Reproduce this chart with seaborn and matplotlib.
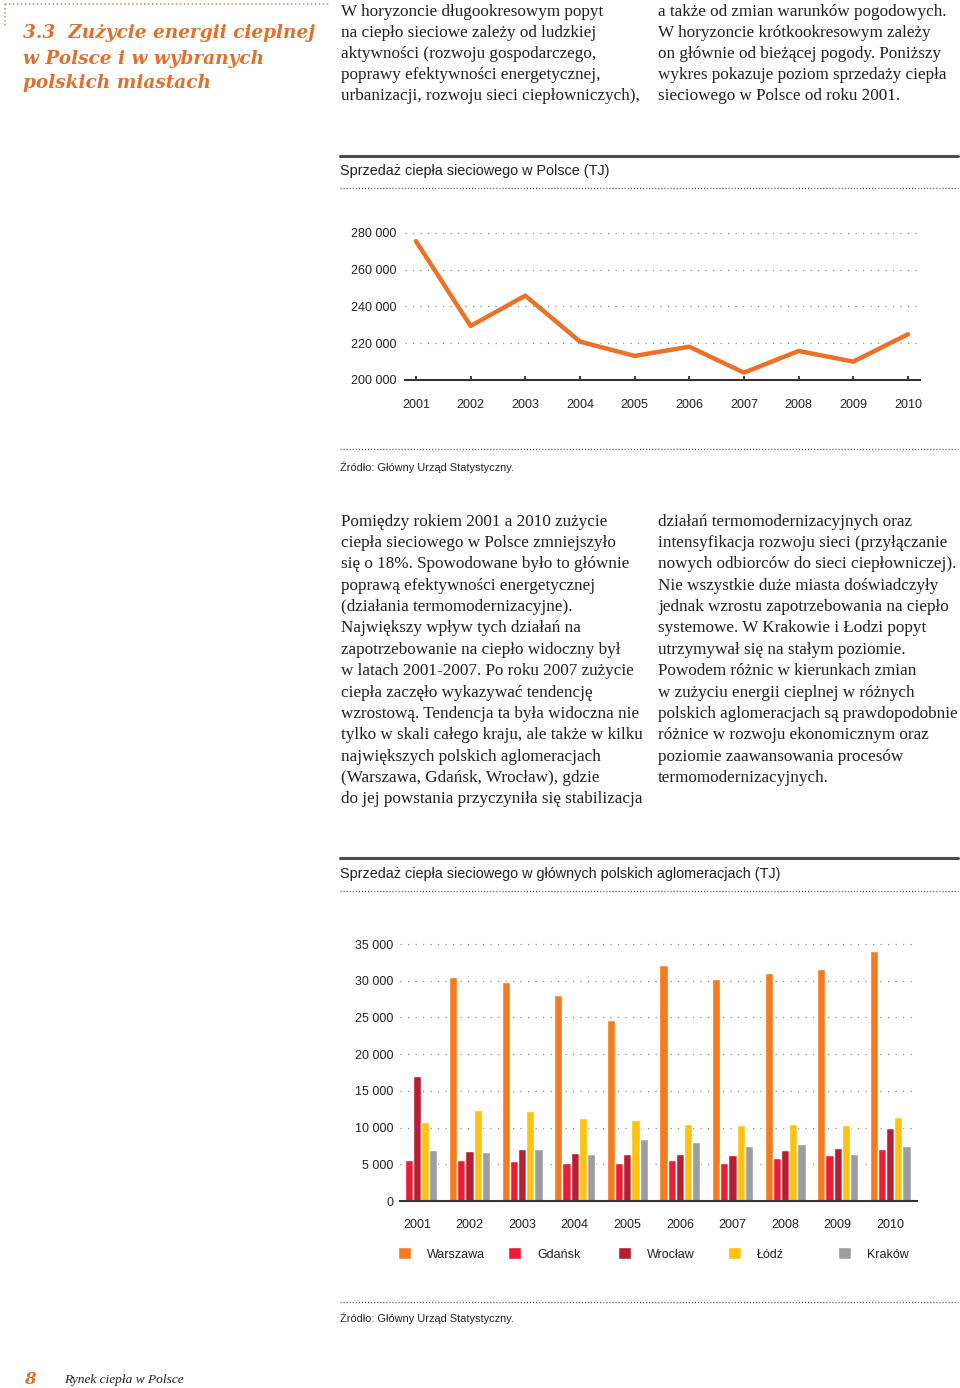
import numpy as np
import pandas as pd
import matplotlib
matplotlib.use("Agg")
import matplotlib.pyplot as plt
from matplotlib.lines import Line2D
import seaborn as sns

# data
years = [2001, 2002, 2003, 2004, 2005, 2006, 2007, 2008, 2009, 2010]
poland_tj = [275600, 229400, 245900, 220900, 213100, 218100, 204000, 215800, 210000, 224900]

cities = ["Warszawa", "Gdańsk", "Wrocław", "Łódź", "Kraków"]
warszawa = [np.nan, 30500, 29800, 28100, 24650, 32200, 30200, 31050, 31650, 34000]
gdansk = [5600, 5600, 5450, 5200, 5200, 5600, 5200, 5850, 6300, 7150]
wroclaw = [17000, 6750, 7150, 6600, 6450, 6350, 6200, 6950, 7250, 9900]
lodz = [10700, 12400, 12200, 11350, 11050, 10550, 10350, 10450, 10300, 11400]
krakow = [6950, 6650, 7150, 6450, 8500, 8050, 7450, 7700, 6400, 7450]

line_ticks = [200000, 220000, 240000, 260000, 280000]
bar_ticks = [0, 5000, 10000, 15000, 20000, 25000, 30000, 35000]

title_lines = ["3.3  Zużycie energii cieplnej", "w Polsce i w wybranych", "polskich miastach"]
intro_left = [
    "W horyzoncie długookresowym popyt",
    "na ciepło sieciowe zależy od ludzkiej",
    "aktywności (rozwoju gospodarczego,",
    "poprawy efektywności energetycznej,",
    "urbanizacji, rozwoju sieci ciepłowniczych),",
]
intro_right = [
    "a także od zmian warunków pogodowych.",
    "W horyzoncie krótkookresowym zależy",
    "on głównie od bieżącej pogody. Poniższy",
    "wykres pokazuje poziom sprzedaży ciepła",
    "sieciowego w Polsce od roku 2001.",
]
mid_left = [
    "Pomiędzy rokiem 2001 a 2010 zużycie",
    "ciepła sieciowego w Polsce zmniejszyło",
    "się o 18%. Spowodowane było to głównie",
    "poprawą efektywności energetycznej",
    "(działania termomodernizacyjne).",
    "Największy wpływ tych działań na",
    "zapotrzebowanie na ciepło widoczny był",
    "w latach 2001-2007. Po roku 2007 zużycie",
    "ciepła zaczęło wykazywać tendencję",
    "wzrostową. Tendencja ta była widoczna nie",
    "tylko w skali całego kraju, ale także w kilku",
    "największych polskich aglomeracjach",
    "(Warszawa, Gdańsk, Wrocław), gdzie",
    "do jej powstania przyczyniła się stabilizacja",
]
mid_right = [
    "działań termomodernizacyjnych oraz",
    "intensyfikacja rozwoju sieci (przyłączanie",
    "nowych odbiorców do sieci ciepłowniczej).",
    "Nie wszystkie duże miasta doświadczyły",
    "jednak wzrostu zapotrzebowania na ciepło",
    "systemowe. W Krakowie i Łodzi popyt",
    "utrzymywał się na stałym poziomie.",
    "Powodem różnic w kierunkach zmian",
    "w zużyciu energii cieplnej w różnych",
    "polskich aglomeracjach są prawdopodobnie",
    "różnice w rozwoju ekonomicznym oraz",
    "poziomie zaawansowania procesów",
    "termomodernizacyjnych.",
]
chart1_title = "Sprzedaż ciepła sieciowego w Polsce (TJ)"
chart2_title = "Sprzedaż ciepła sieciowego w głównych polskich aglomeracjach (TJ)"
source = "Źródło: Główny Urząd Statystyczny."

# colours
ORANGE_TXT = "#E0702C"
LINE_ORANGE = "#EC7128"
palette = ["#F47B20", "#EC1C36", "#B41F31", "#FFC20E", "#9C9DA0"]
DARK = "#333333"

sns.set_theme(style="white")
plt.rcParams['font.family'] = ['Liberation Sans', 'DejaVu Sans']
SERIF = ['Liberation Serif', 'DejaVu Serif']
HEAVY_SERIF = ['DejaVu Serif', 'Liberation Serif']

W, H = 960, 1388
fig = plt.figure(figsize=(9.6, 13.88), dpi=100)


def fx(px):
    return px / W


def fy(py):
    return 1 - py / H


def hline(x0, x1, y, color, lw, ls):
    fig.add_artist(Line2D([fx(x0), fx(x1)], [fy(y), fy(y)], transform=fig.transFigure,
                          color=color, lw=lw, linestyle=ls))


def paragraph(lines, x, y0, step, **kw):
    # one text per line, baselines on the page grid
    for i, line in enumerate(lines):
        fig.text(fx(x), fy(y0 + i * step), line, ha="left", va="baseline", **kw)


DOTS = (0, (0.8, 1.4))

# decorative dotted corner + title
fig.add_artist(Line2D([fx(5), fx(330)], [fy(4), fy(4)], transform=fig.transFigure,
                      color="#D29A6E", lw=1.3, linestyle=DOTS))
fig.add_artist(Line2D([fx(5), fx(5)], [fy(4), fy(26)], transform=fig.transFigure,
                      color="#D29A6E", lw=1.3, linestyle=DOTS))
paragraph(title_lines, 23, 38.5, 25, color=ORANGE_TXT, family=HEAVY_SERIF, fontsize=13.3,
          fontweight="bold", fontstyle="italic")

# body text
body_kw = dict(color="#231F20", family=SERIF, fontsize=12.3)
paragraph(intro_left, 341, 15.5, 21.25, **body_kw)
paragraph(intro_right, 658, 15.5, 21.25, **body_kw)
paragraph(mid_left, 341, 525.5, 21.38, **body_kw)
paragraph(mid_right, 658, 525.5, 21.38, **body_kw)

# chart section frames
for y_solid, y_dot, y_bottom, ttl, y_ttl, y_src in [
        (156, 188, 449, chart1_title, 171, 467),
        (858, 891, 1302, chart2_title, 874, 1318)]:
    hline(340, 958, y_solid, "#4D4D4D", 2.2, "-")
    hline(340, 958, y_dot, "#555555", 1.0, DOTS)
    hline(340, 958, y_bottom, "#555555", 1.0, DOTS)
    fig.text(fx(340), fy(y_ttl), ttl, ha="left", va="center", fontsize=10.4, color="#222222")
    fig.text(fx(340), fy(y_src), source, ha="left", va="center", fontsize=7.9, color="#222222")

# line chart: total Poland
ax1 = fig.add_axes([fx(405), fy(380), (920 - 405) / W, (380 - 229.3) / H])
sns.lineplot(x=years, y=poland_tj, ax=ax1, color=LINE_ORANGE, lw=3.2)
ax1.set_xlim(2000.8, 2010.22)
ax1.set_ylim(200000, 282000)
ax1.set_xticks(years)
ax1.set_xticklabels([str(y) for y in years])
ax1.set_yticks(line_ticks)
ax1.set_yticklabels([f"{v:,}".replace(",", " ") for v in line_ticks])
ax1.set_axisbelow(True)
ax1.yaxis.grid(True, color="#8C8C8C", lw=0.9, linestyle=(0, (1, 5)))
ax1.xaxis.grid(False)
for s in ["top", "right", "left"]:
    ax1.spines[s].set_visible(False)
ax1.spines["bottom"].set_color(DARK)
ax1.spines["bottom"].set_linewidth(1.5)
ax1.tick_params(axis="y", length=0, pad=6, labelsize=9, labelcolor="#222222")
ax1.tick_params(axis="x", direction="in", length=3, width=1.3, color=DARK, pad=13.5,
                labelsize=9, labelcolor="#222222", bottom=True)

# bar chart: cities
bars = pd.DataFrame({"Rok": [str(y) for y in years], "Warszawa": warszawa, "Gdańsk": gdansk,
                     "Wrocław": wroclaw, "Łódź": lodz, "Kraków": krakow})
bars_long = bars.melt(id_vars="Rok", value_vars=cities, var_name="Miasto", value_name="TJ")

ax2 = fig.add_axes([fx(400), fy(1201), (917 - 400) / W, (1201 - 936.7) / H])
sns.barplot(data=bars_long, x="Rok", y="TJ", hue="Miasto", hue_order=cities, palette=palette,
            width=0.78, saturation=1, errorbar=None, ax=ax2, zorder=3)
handles, labels = ax2.get_legend_handles_labels()
ax2.get_legend().remove()
ax2.set_xlim(-0.323, 9.51)
ax2.set_ylim(0, 36000)
ax2.set_yticks(bar_ticks)
ax2.set_yticklabels([f"{v:,}".replace(",", " ") for v in bar_ticks])
ax2.set_xlabel("")
ax2.set_ylabel("")
ax2.yaxis.grid(True, color="#8C8C8C", lw=0.9, linestyle=(0, (1, 5)), zorder=0)
ax2.xaxis.grid(False)
for s in ["top", "right", "left"]:
    ax2.spines[s].set_visible(False)
ax2.spines["bottom"].set_color(DARK)
ax2.spines["bottom"].set_linewidth(1.5)
ax2.spines["bottom"].set_zorder(5)
ax2.tick_params(axis="y", length=0, pad=5, labelsize=9, labelcolor="#222222")
ax2.tick_params(axis="x", length=0, pad=13, labelsize=9, labelcolor="#222222")

# legend, one entry per slot so the spacing matches the page
for i, (h, lab) in enumerate(zip(handles, labels)):
    fig.legend([h], [lab], loc="center left", bbox_to_anchor=(fx(398 + 110 * i), fy(1254)),
               frameon=False, fontsize=9, handlelength=1.05, handleheight=1.05,
               handletextpad=1.3, borderpad=0, borderaxespad=0, labelcolor="#222222")

# footer
fig.text(fx(24), fy(1384), "8", ha="left", va="baseline", color=ORANGE_TXT, family=HEAVY_SERIF,
         fontsize=12, fontweight="bold", fontstyle="italic")
fig.text(fx(64), fy(1382.5), "Rynek ciepła w Polsce", ha="left", va="baseline", color="#231F20",
         family=SERIF, fontsize=9.6, fontstyle="italic")

fig.savefig("out.png", dpi=100)
